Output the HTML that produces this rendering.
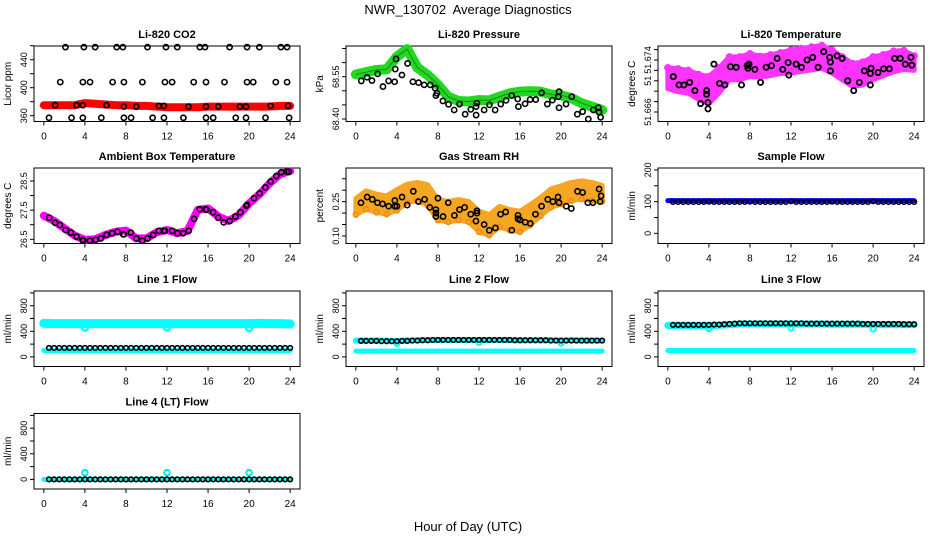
<!DOCTYPE html>
<html><head><meta charset="utf-8"><style>
html,body{margin:0;padding:0;background:#fff;}
svg{display:block;font-family:"Liberation Sans",Arial,sans-serif;}
</style></head><body>
<svg id="chart" width="936" height="540" viewBox="0 0 936 540">
<rect width="936" height="540" fill="#fff"/>
<text x="468" y="14" font-size="13" text-anchor="middle">NWR_130702&#160; Average Diagnostics</text>
<text x="468" y="531" font-size="13" text-anchor="middle">Hour of Day (UTC)</text>
</svg>
<script>
// ---------- data ----------
const H25 = [0,1,2,3,4,5,6,7,8,9,10,11,12,13,14,15,16,17,18,19,20,21,22,23,24];
const HALF = [0.5,1,1.5,2,2.5,3,3.5,4,4.5,5,5.5,6,6.5,7,7.5,8,8.5,9,9.5,10,10.5,11,11.5,12,12.5,13,13.5,14,14.5,15,15.5,16,16.5,17,17.5,18,18.5,19,19.5,20,20.5,21,21.5,22,22.5,23,23.5,24];
const XTICKS = [0,4,8,12,16,20,24];

const co2Red = [375,375,375,375,378,377,376,375,375,374,374,373,372,372,372,372,373,373,373,373,373,373,373,374,374];
const co2BlackHours = [2.1,3.9,5.0,7.1,7.7,10.1,11.9,13.0,15.2,15.7,18.1,19.8,21.0,23.1,23.7,
 1.6,3.8,4.5,6.7,7.8,9.6,11.8,12.5,14.6,15.8,17.6,19.8,20.4,22.6,23.7,
 1.1,3.2,3.8,6.1,7.8,9.0,11.2,11.7,14.1,15.8,17.0,19.1,19.7,22.1,23.8,
 0.5,2.7,3.8,5.6,7.8,8.5,10.6,11.7,13.6,15.8,16.5,18.7,19.7,21.6,23.9];
const co2BlackVals = [458,458,458,458,458,458,458,458,458,458,458,458,458,458,458,
 408,408,408,408,408,408,408,408,408,408,408,408,408,408,408,
 375,375,375,375,373,373,374,374,373,373,373,373,373,374,374,
 357,357,357,357,357,357,357,357,357,357,357,357,357,357,357];

const presGreen = [68.558,68.566,68.574,68.576,68.621,68.648,68.582,68.556,68.521,68.479,68.464,68.462,68.467,68.466,68.479,68.491,68.497,68.499,68.497,68.487,68.484,68.474,68.456,68.444,68.432];
const presBlackHours = [0.53,1.09,1.57,2.12,2.64,3.19,3.78,3.91,3.84,4.49,5.04,5.56,6.11,6.66,7.25,7.73,7.80,7.90,8.48,9.03,9.58,10.10,10.65,11.20,11.72,11.79,11.72,12.50,13.02,13.57,14.12,14.64,15.19,15.77,15.84,16.49,16.98,17.53,18.11,18.66,19.15,19.73,19.80,19.80,20.48,21.03,21.58,22.10,22.65,23.14,23.62,23.69,23.85];
const presBlackVals = [68.535,68.548,68.536,68.560,68.515,68.535,68.532,68.613,68.577,68.556,68.597,68.532,68.529,68.521,68.521,68.509,68.483,68.491,68.464,68.452,68.432,68.453,68.417,68.434,68.444,68.456,68.414,68.432,68.450,68.432,68.453,68.466,68.483,68.471,68.444,68.454,68.469,68.469,68.493,68.453,68.467,68.479,68.440,68.497,68.453,68.479,68.417,68.426,68.400,68.432,68.440,68.424,68.406];

const licTempCenter = [51.6705,51.6701,51.6698,51.6688,51.6682,51.6701,51.6724,51.6724,51.6730,51.6727,51.6730,51.6734,51.6737,51.6740,51.6743,51.6746,51.6737,51.6724,51.6711,51.6714,51.6724,51.6730,51.6737,51.6740,51.6734];
const licTempSpread = [0.0020,0.0022,0.0022,0.0024,0.0026,0.0024,0.0022,0.0022,0.0022,0.0020,0.0020,0.0020,0.0022,0.0022,0.0022,0.0022,0.0022,0.0022,0.0022,0.0022,0.0022,0.0020,0.0020,0.0018,0.0014];
const licTempBlackHours = [0.53,1.09,1.57,2.12,2.64,3.19,3.78,3.78,3.91,3.91,4.49,5.04,5.56,6.11,6.66,7.18,7.73,7.80,7.90,8.48,9.03,9.58,10.10,10.65,11.20,11.72,11.79,12.50,13.02,13.57,14.12,14.64,15.19,15.77,15.84,15.84,16.49,16.98,17.53,18.11,18.66,19.15,19.73,19.73,19.80,20.48,21.03,21.58,22.10,22.65,23.14,23.69,23.78];
const licTempBlackVals = [51.6708,51.6692,51.6692,51.6697,51.6681,51.6656,51.6681,51.6674,51.6658,51.6646,51.6732,51.6695,51.6692,51.6727,51.6726,51.6692,51.6729,51.6724,51.6732,51.6722,51.6697,51.6726,51.6729,51.6743,51.6722,51.6735,51.6711,51.6732,51.6726,51.6740,51.6745,51.6726,51.6756,51.6745,51.6736,51.6719,51.6748,51.6743,51.6700,51.6681,51.6697,51.6719,51.6714,51.6692,51.6724,51.6716,51.6723,51.6723,51.6743,51.6743,51.6732,51.6745,51.6730];

const ambCenter = [27.31,27.13,26.88,26.63,26.48,26.50,26.65,26.76,26.80,26.53,26.53,26.74,26.82,26.71,26.79,27.51,27.56,27.28,27.13,27.33,27.73,28.04,28.42,28.73,28.84];
const ambBlackHours = [0.53,1.09,1.57,2.12,2.64,3.19,3.78,3.84,4.49,5.04,5.56,6.11,6.66,7.18,7.73,7.80,8.48,9.03,9.58,10.10,10.65,11.20,11.72,11.79,12.50,13.02,13.57,14.12,14.64,15.19,15.77,15.84,16.49,16.98,17.53,18.11,18.66,19.15,19.73,19.80,20.48,21.03,21.58,22.10,22.65,23.14,23.69,23.88];
const ambBlackVals = [27.24,27.07,26.99,26.82,26.73,26.59,26.48,26.45,26.45,26.48,26.53,26.65,26.71,26.76,26.67,26.67,26.73,26.53,26.45,26.53,26.65,26.79,26.79,26.79,26.79,26.71,26.71,26.79,27.20,27.53,27.53,27.51,27.43,27.24,27.08,27.13,27.28,27.43,27.65,27.68,27.91,28.08,28.28,28.48,28.67,28.80,28.82,28.82];

const rhCenter = [0.228,0.257,0.243,0.235,0.257,0.286,0.294,0.279,0.214,0.206,0.214,0.206,0.163,0.148,0.184,0.170,0.163,0.192,0.228,0.265,0.279,0.294,0.301,0.294,0.286];
const rhSpread = [0.035,0.04,0.04,0.04,0.045,0.04,0.04,0.045,0.045,0.045,0.045,0.045,0.045,0.045,0.045,0.045,0.045,0.045,0.04,0.04,0.04,0.04,0.04,0.04,0.035];
const rhBlackHours = [0.5,1.1,1.6,2.1,2.6,3.2,3.8,3.8,4.0,4.5,5.0,5.6,6.1,6.7,7.2,7.8,7.8,7.8,8.0,8.5,9.0,9.6,10.1,10.6,11.2,11.7,11.8,11.8,12.5,13.0,13.6,14.1,14.6,15.2,15.8,15.8,16.0,16.5,17.0,17.5,18.1,18.7,19.2,19.7,19.8,20.5,21.0,21.6,22.1,22.6,23.1,23.7,23.8,23.9];
const rhBlackVals = [0.245,0.27,0.26,0.245,0.24,0.23,0.23,0.255,0.23,0.27,0.235,0.295,0.25,0.26,0.225,0.215,0.2,0.185,0.265,0.185,0.245,0.19,0.215,0.225,0.195,0.165,0.2,0.21,0.15,0.125,0.135,0.195,0.205,0.125,0.19,0.175,0.17,0.16,0.155,0.195,0.23,0.26,0.25,0.27,0.245,0.23,0.22,0.295,0.29,0.245,0.245,0.305,0.25,0.275];

const sampleBlue = [103,103,103,103,103,103,103,103,103,103,103,103,103,103,103,103,103,103,103,103,103,103,103,103,103];
const sampleBlack = [99,99,99,99,99,99,99,100,99,99,99,99,99,99,99,100,99,99,99,99,99,99,99,101,99,99,99,99,99,99,99,100,99,99,99,99,99,99,99,101,99,99,99,99,99,99,99,99];

const line1CyanHi = [525,520,520,520,520,520,520,520,520,520,520,520,520,520,520,520,520,520,520,520,520,525,520,520,515];
const line1CyanLo = [100,100,100,100,100,100,100,100,100,100,100,100,100,100,100,100,100,100,100,100,100,100,100,100,100];
const line1DipHours = [4,12,20];
const line1DipVals = [455,460,450];
const line1Black = [140,140,140,140,140,140,140,140,140,140,140,140,140,140,140,140,140,140,140,140,140,140,140,140,140,140,140,140,140,140,140,140,140,140,140,140,140,140,140,140,140,140,140,140,140,140,140,140];

const line2CyanHi = [255,255,255,255,245,255,260,265,265,265,265,265,265,265,265,265,260,260,260,260,255,260,255,255,255];
const line2CyanLo = [90,90,90,90,90,90,90,90,90,90,90,90,90,90,90,90,90,90,90,90,90,90,90,90,90];
const line2DipHours = [4,12,20];
const line2DipVals = [210,225,215];
const line2Black = [250,250,250,250,245,245,245,245,250,250,255,255,260,260,265,265,265,265,265,265,265,265,265,265,265,265,265,265,265,265,260,260,260,260,260,260,260,255,255,255,255,255,255,255,255,255,255,255];

const line3CyanHi = [490,490,490,490,490,495,505,515,515,515,515,515,515,515,515,515,510,510,510,510,505,505,505,505,505];
const line3CyanLo = [100,100,100,100,100,100,100,100,100,100,100,100,100,100,100,100,100,100,100,100,100,100,100,100,100];
const line3DipHours = [4,12,20];
const line3DipVals = [440,450,435];
const line3Black = [500,500,500,500,500,500,500,500,505,505,510,515,520,525,525,525,525,525,525,525,525,525,525,525,525,525,520,520,520,520,520,520,520,520,520,520,520,515,515,515,515,515,515,515,515,510,510,510];

const line4Cyan = [0,0,0,0,0,0,0,0,0,0,0,0,0,0,0,0,0,0,0,0,0,0,0,0,0];
const line4SpikeHours = [4,12,20];
const line4SpikeVals = [105,105,105];
const line4Black = [0,0,0,0,0,0,0,0,0,0,0,0,0,0,0,0,0,0,0,0,0,0,0,0,0,0,0,0,0,0,0,0,0,0,0,0,0,0,0,0,0,0,0,0,0,0,0,0];

// ---------- drawing ----------
const NS = 'http://www.w3.org/2000/svg';
const svg = document.getElementById('chart');
const L0 = 34, PW = 266, HT = 75.5;
const TOPS = [46, 168, 291, 413.5];

function mk(tag, parent) { const e = document.createElementNS(NS, tag); parent.appendChild(e); return e; }

function makePanel(col, row, ymin, ymax, title, ylab, ticks, labels, name) {
  const p = { left: L0 + 312 * col, top: TOPS[row], ymin: ymin, ymax: ymax };
  p.sx = h => p.left + (h + 0.96) / 25.92 * PW;
  p.sy = v => p.top + (p.ymax - v) / (p.ymax - p.ymin) * HT;
  const g = mk('g', svg);
  
  
  p.g = g;
  const box = mk('rect', g);
  
  
  box.setAttribute('x', p.left); box.setAttribute('y', p.top);
  box.setAttribute('width', PW); box.setAttribute('height', HT);
  box.setAttribute('fill', 'none'); box.setAttribute('stroke', '#000'); box.setAttribute('stroke-width', '1');
  const t = mk('text', g);
  
  
  t.setAttribute('x', p.left + PW / 2); t.setAttribute('y', p.top - 8);
  t.setAttribute('text-anchor', 'middle'); t.setAttribute('font-size', '11'); t.setAttribute('font-weight', 'bold');
  t.textContent = title;
  const yl = mk('text', g);
  
  
  const yc = p.top + HT / 2;
  yl.setAttribute('transform', 'translate(' + (p.left - 23) + ',' + yc + ') rotate(-90)');
  yl.setAttribute('text-anchor', 'middle'); yl.setAttribute('font-size', '10');
  yl.textContent = ylab;
  ticks.forEach((v, i) => {
    const y = p.sy(v);
    const tk = mk('line', g);
    
    
    tk.setAttribute('x1', p.left - 4); tk.setAttribute('x2', p.left);
    tk.setAttribute('y1', y); tk.setAttribute('y2', y); tk.setAttribute('stroke', '#000');
    if (labels[i]) {
      const tl = mk('text', g);
      
      
      tl.setAttribute('transform', 'translate(' + (p.left - 7) + ',' + y + ') rotate(-90)');
      tl.setAttribute('text-anchor', 'middle'); tl.setAttribute('font-size', '9');
      tl.textContent = labels[i];
    }
  });
  const bottom = p.top + HT;
  XTICKS.forEach(h => {
    const x = p.sx(h);
    const tk = mk('line', g);
    
    
    tk.setAttribute('x1', x); tk.setAttribute('x2', x);
    tk.setAttribute('y1', bottom); tk.setAttribute('y2', bottom + 4); tk.setAttribute('stroke', '#000');
    const tl = mk('text', g);
    
    
    tl.setAttribute('x', x); tl.setAttribute('y', bottom + 18);
    tl.setAttribute('text-anchor', 'middle'); tl.setAttribute('font-size', '10');
    tl.textContent = String(h);
  });
  return p;
}

function band(p, xs, ys, color, width, name) {
  const pl = mk('polyline', p.g);
  
  
  pl.setAttribute('points', xs.map((h, i) => p.sx(h) + ',' + p.sy(ys[i])).join(' '));
  pl.setAttribute('fill', 'none'); pl.setAttribute('stroke', color);
  pl.setAttribute('stroke-width', width); pl.setAttribute('stroke-linecap', 'round'); pl.setAttribute('stroke-linejoin', 'round');
}

function spreadBand(p, xs, center, spread, color, name) {
  const up = xs.map((h, i) => p.sx(h) + ',' + p.sy(center[i] + spread[i]));
  const dn = xs.map((h, i) => p.sx(h) + ',' + p.sy(center[i] - spread[i])).reverse();
  const pg = mk('polygon', p.g);
  
  
  pg.setAttribute('points', up.concat(dn).join(' '));
  pg.setAttribute('fill', color); pg.setAttribute('stroke', color);
  pg.setAttribute('stroke-width', '5'); pg.setAttribute('stroke-linejoin', 'round');
}

function pts(p, xs, ys, color, r, sw, name) {
  xs.forEach((h, i) => {
    const c = mk('circle', p.g);
    
    
    c.setAttribute('cx', p.sx(h)); c.setAttribute('cy', p.sy(ys[i]));
    c.setAttribute('r', r); c.setAttribute('fill', 'none');
    c.setAttribute('stroke', color); c.setAttribute('stroke-width', sw);
  });
}

const blk = '#000';
let p = makePanel(0, 0, 351.7, 459.6, 'Li-820 CO2', 'Licor ppm', [360,380,400,420,440,460], ['360','','400','','440',''], 'panel-co2');
band(p, H25, co2Red, '#ff0000', 8, 'co2-red-series');
pts(p, co2BlackHours, co2BlackVals, blk, 2.6, 1.6, 'co2-black-point');

p = makePanel(1, 0, 68.3911, 68.6589, 'Li-820 Pressure', 'kPa', [68.40,68.45,68.50,68.55,68.60,68.65], ['68.40','','','68.55','',''], 'panel-pressure');
band(p, H25, presGreen, '#22d822', 10, 'pressure-green-series');
band(p, H25, presGreen, '#128a12', 1, 'pressure-green-core');
pts(p, presBlackHours, presBlackVals, blk, 2.6, 1.6, 'pressure-black-point');

p = makePanel(2, 0, 51.66217, 51.67669, 'Li-820 Temperature', 'degrees C', [51.664,51.666,51.668,51.670,51.672,51.674,51.676], ['51.666','','','51','','51.674',''], 'panel-licor-temperature');
spreadBand(p, H25, licTempCenter, licTempSpread, '#ff33ff', 'licor-temp-magenta-band');
pts(p, H25, licTempCenter.map((v, i) => v + licTempSpread[i]), '#ff33ff', 3, 1.5, 'licor-temp-magenta-point');
pts(p, licTempBlackHours, licTempBlackVals, blk, 2.6, 1.8, 'licor-temp-black-point');

p = makePanel(0, 1, 26.356, 28.946, 'Ambient Box Temperature', 'degrees C', [26.5,27,27.5,28,28.5], ['26.5','','27.5','','28.5'], 'panel-ambient-temperature');
band(p, H25, ambCenter, '#ff00ff', 8, 'ambient-magenta-series');
pts(p, ambBlackHours, ambBlackVals, blk, 2.6, 1.6, 'ambient-black-point');

p = makePanel(1, 1, 0.067, 0.397, 'Gas Stream RH', 'percent', [0.10,0.15,0.20,0.25,0.30,0.35], ['0.10','','','0.25','',''], 'panel-rh');
spreadBand(p, H25, rhCenter, rhSpread, '#f5a623', 'rh-orange-band');
pts(p, H25, rhCenter.map((v, i) => v - rhSpread[i]), '#f08a10', 2.5, 1.5, 'rh-orange-point');
pts(p, rhBlackHours, rhBlackVals, blk, 2.6, 1.6, 'rh-black-point');

p = makePanel(2, 1, -32, 206, 'Sample Flow', 'ml/min', [0,50,100,150,200], ['0','','100','','200'], 'panel-sample-flow');
band(p, H25, sampleBlue, '#0000ff', 5, 'sample-blue-series');
pts(p, HALF, sampleBlack, blk, 2.3, 1.6, 'sample-black-point');

const FT = [0,200,400,600,800,1000], FL = ['0','','400','','800',''];
p = makePanel(0, 2, -150, 1030, 'Line 1 Flow', 'ml/min', FT, FL, 'panel-line1-flow');
band(p, H25, line1CyanHi, '#00ffff', 9, 'line1-cyan-high');
pts(p, line1DipHours, line1DipVals, '#00ffff', 3, 2.5, 'line1-cyan-dip');
band(p, H25, line1CyanLo, '#00ffff', 5, 'line1-cyan-low');
pts(p, HALF, line1Black, blk, 2.3, 1.6, 'line1-black-point');

p = makePanel(1, 2, -150, 1030, 'Line 2 Flow', 'ml/min', FT, FL, 'panel-line2-flow');
band(p, H25, line2CyanHi, '#00ffff', 6, 'line2-cyan-high');
pts(p, line2DipHours, line2DipVals, '#00ffff', 2.5, 2, 'line2-cyan-dip');
band(p, H25, line2CyanLo, '#00ffff', 5, 'line2-cyan-low');
pts(p, HALF, line2Black, blk, 2.3, 1.6, 'line2-black-point');

p = makePanel(2, 2, -150, 1030, 'Line 3 Flow', 'ml/min', FT, FL, 'panel-line3-flow');
band(p, H25, line3CyanHi, '#00ffff', 7, 'line3-cyan-high');
pts(p, line3DipHours, line3DipVals, '#00ffff', 2.5, 2, 'line3-cyan-dip');
band(p, H25, line3CyanLo, '#00ffff', 5, 'line3-cyan-low');
pts(p, HALF, line3Black, blk, 2.3, 1.6, 'line3-black-point');

p = makePanel(0, 3, -150, 1030, 'Line 4 (LT) Flow', 'ml/min', FT, FL, 'panel-line4-flow');
band(p, H25, line4Cyan, '#00ffff', 5, 'line4-cyan-series');
pts(p, line4SpikeHours, line4SpikeVals, '#00e5e5', 2.8, 2, 'line4-cyan-spike');
pts(p, HALF, line4Black, blk, 2.3, 1.6, 'line4-black-point');
</script>
</body></html>
